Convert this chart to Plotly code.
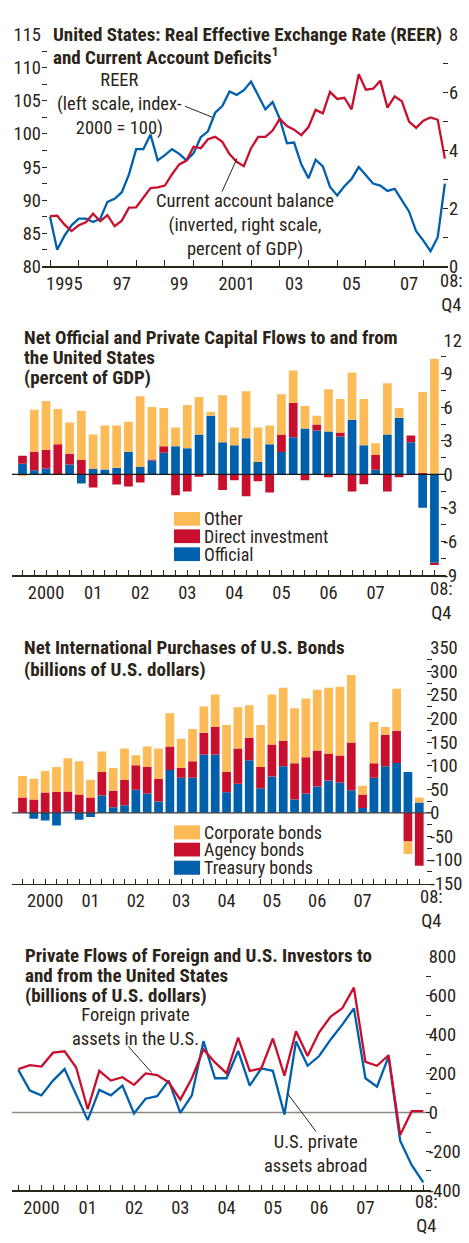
import plotly.graph_objects as go

W, H = 469, 1243
FONT = "Liberation Sans Narrow, Arial Narrow, Roboto Condensed, DejaVu Sans Condensed, sans-serif"
TXT = "#2b2419"
AX = "#2b2419"
BLUE = "#0060ab"
RED = "#c8102e"
YEL = "#fdbb57"

# ---------------- data ----------------
# Panel 1: quarterly 1995Q1-2008Q4
quarters1 = [f"{y}Q{q}" for y in range(1995, 2009) for q in range(1, 5)]
reer = [87.5, 82.5, 84.6, 86.2, 87.2, 87.2, 86.7, 87.2, 89.75, 90.2, 91.2, 93.9,
        97.7, 97.7, 99.9, 96.0, 96.8, 97.7, 97.0, 96.0, 97.1, 99.5, 100.4, 103.2,
        104.2, 106.4, 105.9, 106.6, 107.9, 105.8, 103.7, 104.8, 102.3, 98.6, 98.7, 95.4,
        93.3, 96.1, 95.1, 92.0, 90.7, 92.1, 93.2, 95.0, 93.8, 92.5, 92.2, 91.4,
        91.7, 90.1, 88.3, 85.3, 83.9, 82.3, 84.4, 92.5]
ca_deficit = [1.73, 1.75, 1.45, 1.22, 1.42, 1.52, 1.82, 1.56, 1.77, 1.39, 1.58, 2.03,
              2.04, 2.38, 2.70, 2.73, 2.79, 3.18, 3.52, 3.65, 4.13, 4.08, 4.39, 4.47,
              4.30, 3.88, 3.61, 3.46, 4.08, 4.47, 4.47, 4.69, 5.09, 4.84, 4.72, 4.53,
              4.81, 5.40, 5.28, 6.02, 5.78, 5.82, 5.42, 6.63, 6.10, 6.13, 6.41, 5.48,
              5.87, 5.70, 5.00, 4.78, 5.03, 5.14, 5.06, 3.72]
p1_ticklabels = ["1995", "97", "99", "2001", "03", "05", "07"]

# Panels 2-4: quarterly 2000Q1-2008Q4
quarters = [f"{y}Q{q}" for y in range(2000, 2009) for q in range(1, 5)]
year_labels = {"2000Q3": "2000", "2001Q3": "01", "2002Q3": "02", "2003Q3": "03",
               "2004Q3": "04", "2005Q3": "05", "2006Q3": "06", "2007Q3": "07"}

official = [0.94, 0.38, 0.53, 0.0, 0.88, -0.82, 0.5, 0.44, 0.59, 2.02, 0.67, 1.23,
            1.93, 2.52, 2.34, 3.57, 5.24, 2.87, 2.6, 3.22, 1.11, 2.69, 1.99, 3.31,
            4.1, 3.92, 3.83, 3.39, 4.89, 2.6, 0.41, 3.57, 5.06, 2.87, -2.99, -7.9]
direct_inv = [0.73, 1.64, 1.67, 2.69, 0.97, 1.29, -1.17, 0.0, -0.91, -1.08, -0.73, 0.09,
              0.59, -1.87, -1.52, -0.2, 0.0, -1.4, -0.53, -1.96, -0.61, -1.61, 1.58, 3.07,
              -0.53, 0.53, -0.26, 0.35, -1.52, -0.88, 1.32, -1.52, -0.26, 0.61, 0.15, -0.2]
other = [-0.15, 3.75, 4.36, 3.16, 2.78, 4.39, 3.07, 3.92, 3.78, 2.69, 6.32, 4.71,
         3.42, 1.67, 3.86, 3.34, 0.35, 4.21, 1.58, 4.21, 3.07, 1.67, 3.6, 2.9,
         2.02, 0.79, 3.78, 2.99, 4.21, 4.13, 1.05, 4.57, 0.88, 0.0, 7.2, 10.33]

treasury = [0, -12.5, -16, -27, 3.5, -14.6, -9, 36.7, 11.8, 15.9, 49.2, 40.9,
            24.3, 90.8, 74.2, 74.2, 124, 124, 43.7, 61.7, 111.6, 52, 76.9, 99.1,
            28.4, 40.9, 56.1, 68.6, 64.4, 47.8, 10.4, 74.2, 99.1, 106, 86.6, 22.2]
agency = [32.6, 28.4, 43, 45, 41.6, 38.8, 32.6, 49.9, 35.3, 54, 52, 56.1,
          47.8, 49.9, 20.8, 35.3, 45.7, 58.2, 43, 74.8, 47.8, 45, 67.9, 54,
          76.9, 76.9, 76.2, 57.5, 57.5, 101.2, 28.4, 31.2, 66.5, 67.9, -61, -112.3]
corporate = [45.7, 43.7, 45.7, 52, 70.7, 70.7, 37.4, 43.7, 47.8, 66.5, 20.8, 43.7,
             64.4, 70.7, 62.4, 68.6, 56.1, 68.6, 99.8, 87.3, 68.6, 89.4, 106, 112.3,
             116.4, 124.7, 128.9, 139.3, 145.5, 143.5, 18.7, 87.3, 16.6, 89.4, -26.3, 10.4]

foreign_private = [223, 243, 236, 307, 314, 231, 17, 214, 164, 181, 142, 201,
                   192, 155, 66, 176, 324, 257, 201, 385, 214, 226, 380, 189,
                   417, 290, 412, 493, 535, 641, 260, 240, 294, -115, 7, 7]
us_private = [219, 113, 88, 164, 223, 96, -39, 116, 88, 138, -5, 71,
              84, 164, -2, 88, 366, 176, 176, 316, 138, 226, 214, -10,
              366, 240, 290, 375, 451, 535, 176, 133, 287, -145, -270, -358]

# ---------------- helpers ----------------
def px(x):
    return x / W

def py(y):
    return 1 - y / H

t1 = [int(q[:4]) + (int(q[-1]) - 1) / 4 for q in quarters1]

TICK = 18.5
tickfont = dict(family=FONT, size=TICK, color=TXT)

fig = go.Figure()

# Panel 1
fig.add_trace(go.Scatter(x=t1, y=reer, mode="lines", name="REER",
                         line=dict(color=BLUE, width=2.3), xaxis="x", yaxis="y"))
fig.add_trace(go.Scatter(x=t1, y=ca_deficit, mode="lines", name="Current account balance",
                         line=dict(color=RED, width=2.3), xaxis="x", yaxis="y2"))

# Panel 2
for name, vals, col in [("Official", official, BLUE),
                        ("Direct investment", direct_inv, RED),
                        ("Other", other, YEL)]:
    fig.add_trace(go.Bar(x=quarters, y=vals, name=name, width=0.74,
                         marker=dict(color=col, line=dict(width=0)),
                         xaxis="x2", yaxis="y3"))

# Panel 3
for name, vals, col in [("Treasury bonds", treasury, BLUE),
                        ("Agency bonds", agency, RED),
                        ("Corporate bonds", corporate, YEL)]:
    fig.add_trace(go.Bar(x=quarters, y=vals, name=name, width=0.77,
                         marker=dict(color=col, line=dict(width=0)),
                         xaxis="x3", yaxis="y5"))

# Panel 4
fig.add_trace(go.Scatter(x=quarters, y=us_private, mode="lines", name="U.S. private assets abroad",
                         line=dict(color=BLUE, width=2.3), xaxis="x4", yaxis="y7"))
fig.add_trace(go.Scatter(x=quarters, y=foreign_private, mode="lines", name="Foreign private assets in the U.S.",
                         line=dict(color=RED, width=2.3), xaxis="x4", yaxis="y7"))


def xcat(domain, anchor, rng):
    return dict(domain=domain, anchor=anchor, type="category",
                categoryorder="array", categoryarray=quarters, range=rng,
                showline=True, linecolor=AX, linewidth=1.5, showgrid=False, zeroline=False,
                tickmode="array", tickvals=quarters,
                ticktext=[year_labels.get(q, "") for q in quarters],
                ticks="inside", ticklen=5, tickwidth=1, tickcolor=AX, tickfont=tickfont)


def yright(domain, anchor, rng, labels, minor_vals):
    return dict(domain=domain, anchor=anchor, side="right", range=rng,
                showline=False, showgrid=False, zeroline=False,
                tickmode="array", tickvals=labels, ticktext=[str(v) for v in labels],
                ticks="inside", ticklen=5, tickwidth=1, tickcolor=AX, tickfont=tickfont,
                ticklabelstandoff=-3,
                minor=dict(tickmode="array", tickvals=minor_vals, ticks="inside",
                           ticklen=5, tickwidth=1, tickcolor=AX))


def yleft(over, anchor, rng, vals):
    return dict(overlaying=over, anchor=anchor, side="left", range=rng,
                showline=False, showgrid=False, zeroline=False,
                tickmode="array", tickvals=vals, showticklabels=False,
                ticks="inside", ticklen=5, tickwidth=1, tickcolor=AX)


def frange(a, b, s):
    out = []
    v = a
    while v <= b + 1e-9:
        out.append(round(v, 4))
        v += s
    return out


layout = dict(
    width=W, height=H, margin=dict(l=0, r=0, t=0, b=0),
    paper_bgcolor="white", plot_bgcolor="rgba(0,0,0,0)",
    showlegend=False, barmode="relative",
    font=dict(family=FONT, size=TICK, color=TXT),
    xaxis=dict(domain=[px(42), px(448)], anchor="y", range=[1994.7215, 2008.858],
               showline=True, linecolor=AX, linewidth=1.5, showgrid=False, zeroline=False,
               tickmode="array", tickvals=[y + 0.5 for y in range(1995, 2008, 2)],
               ticktext=p1_ticklabels, ticks="outside", ticklen=0, tickfont=tickfont,
               minor=dict(tickmode="array", tickvals=list(range(1995, 2009)), ticks="inside",
                          ticklen=6, tickwidth=1, tickcolor=AX)),
    yaxis=dict(domain=[py(260), py(24)], anchor="x", range=[80, 115], side="left",
               showline=False, showgrid=False, zeroline=False,
               tickmode="array", tickvals=list(range(80, 116, 5)),
               ticks="inside", ticklen=5, tickwidth=1, tickcolor=AX, tickfont=tickfont,
               minor=dict(tickmode="array", tickvals=frange(82.5, 112.5, 5), ticks="inside",
                          ticklen=5, tickwidth=1, tickcolor=AX)),
    yaxis2=dict(overlaying="y", anchor="x", side="right", range=[0, 8],
                showline=False, showgrid=False, zeroline=False,
                tickmode="array", tickvals=[0, 2, 4, 6, 8],
                ticks="inside", ticklen=5, tickwidth=1, tickcolor=AX, tickfont=tickfont,
                minor=dict(tickmode="array", tickvals=[1, 3, 5, 7], ticks="inside",
                           ticklen=5, tickwidth=1, tickcolor=AX)),
    xaxis2=xcat([px(12), px(445.5)], "y3", [-0.892, 35.94]),
    yaxis3=yright([py(574.3), py(335)], "x2", [-9, 12], [-9, -6, -3, 0, 3, 6, 9, 12],
                  frange(-7.5, 10.5, 3)),
    yaxis4=yleft("y3", "x2", [-9, 12], frange(-9, 12, 1.5)),
    xaxis3=xcat([px(12), px(432.3)], "y5", [-0.926, 36.15]),
    yaxis5=yright([py(888.3), py(648.3)], "x3", [-150, 350], list(range(-150, 351, 50)),
                  list(range(-125, 326, 50))),
    yaxis6=yleft("y5", "x3", [-150, 350], list(range(-150, 351, 25))),
    xaxis4=xcat([px(12), px(430.7)], "y7", [-0.544, 35.64]),
    yaxis7=yright([py(1200.7), py(962.7)], "x4", [-400, 800], list(range(-400, 801, 200)),
                  list(range(-300, 701, 200))),
    yaxis8=yleft("y7", "x4", [-400, 800], list(range(-400, 801, 100))),
)
fig.update_layout(**layout)

shapes = []
# zero lines
shapes.append(dict(type="line", xref="x2 domain", x0=0, x1=1, yref="y3", y0=0, y1=0,
                   line=dict(color="#1a1a1a", width=1.2), layer="above"))
shapes.append(dict(type="line", xref="x3 domain", x0=0, x1=1, yref="y5", y0=0, y1=0,
                   line=dict(color="#3a3a3a", width=1.2), layer="above"))
shapes.append(dict(type="line", xref="x4 domain", x0=0, x1=1, yref="y7", y0=0, y1=0,
                   line=dict(color="#8c8a80", width=1.5), layer="below"))

# leader lines
for (x0, y0, x1, y1) in [(185, 97, 212, 108), (222, 184, 237, 150),
                         (128.3, 1054, 151.7, 1080.7), (287.3, 1101.7, 316, 1140.7)]:
    shapes.append(dict(type="line", xref="paper", yref="paper", x0=px(x0), x1=px(x1),
                       y0=py(y0), y1=py(y1), line=dict(color=TXT, width=1)))

annotations = []


def note(x, y, text, size=18.5, anchor="center", bold=False, align="center"):
    t = f"<b>{text}</b>" if bold else text
    annotations.append(dict(xref="paper", yref="paper", x=px(x), y=py(y), text=t,
                            showarrow=False, xanchor=anchor, yanchor="middle", align=align,
                            borderpad=0, font=dict(family=FONT, size=size, color=TXT)))


# legends (custom boxes)
legend2 = [("Other", YEL, 510, 524), ("Direct investment", RED, 527.7, 541.7),
           ("Official", BLUE, 546, 560)]
legend3 = [("Corporate bonds", YEL, 829, 843.3), ("Agency bonds", RED, 846.7, 860.7),
           ("Treasury bonds", BLUE, 865, 879.3)]
for lab, col, y0, y1 in legend2 + legend3:
    shapes.append(dict(type="rect", xref="paper", yref="paper", x0=px(174), x1=px(200),
                       y0=py(y1), y1=py(y0), fillcolor=col, line=dict(width=0)))
    note(203, (y0 + y1) / 2, lab, size=18, anchor="left", align="left")

# titles
TS = 19
note(52, 24, "United States: Real Effective Exchange Rate (REER)", TS, "left", True)
note(52, 46, "and Current Account Deficits<sup>1</sup>", TS, "left", True)
note(23, 332, "Net Official and Private Capital Flows to and from", TS, "left", True)
note(23, 353, "the United States", TS, "left", True)
note(23, 373, "(percent of GDP)", TS, "left", True)
note(23, 648, "Net International Purchases of U.S. Bonds", TS, "left", True)
note(23, 670, "(billions of U.S. dollars)", TS, "left", True)
note(24, 962, "Private Flows of Foreign and U.S. Investors to", TS, "left", True)
note(24, 982, "and from the United States", TS, "left", True)
note(24, 1002, "(billions of U.S. dollars)", TS, "left", True)

# series labels
note(119, 94.5, "REER<br>(left scale, index-<br>2000 = 100)")
note(245, 218, "Current account balance<br>(inverted, right scale,<br>percent of GDP)")
note(135, 1034.5, "Foreign private<br>assets in the U.S.")
note(315, 1163.5, "U.S. private<br>assets abroad")

# end-of-axis labels
note(451, 287, "08:<br>Q4")
note(441, 600.5, "08:<br>Q4")
note(431, 914.5, "08:<br>Q4")
note(426, 1225, "08:<br>Q4")

fig.update_layout(shapes=shapes, annotations=annotations)
fig.write_html(
    "out.html",
    config={"displayModeBar": False, "staticPlot": True},
    post_script="document.body.style.margin='0px';"
                "document.documentElement.style.overflow='hidden';"
                "document.body.style.overflow='hidden';",
)
